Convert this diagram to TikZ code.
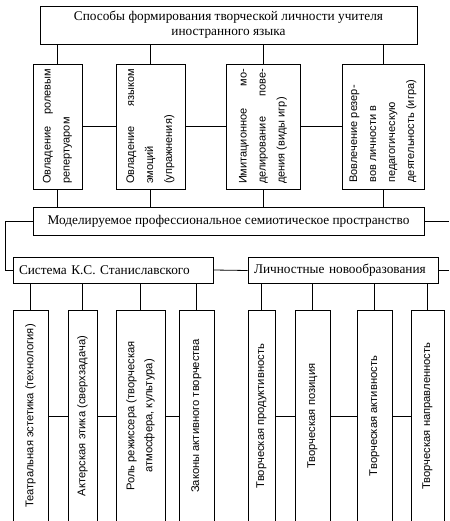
\documentclass[tikz,border=0pt]{standalone}
\usepackage{fontspec}
\setmainfont{Liberation Serif}
\newfontfamily\sansru{Liberation Sans}
\newcommand{\vlabel}[2]{\rotatebox{90}{\parbox{#1}{#2}}}

\begin{document}
\begin{tikzpicture}[x=1pt, y=-1pt, line width=0.8pt,
      box/.style={draw, inner sep=0pt, align=center, font=\fontsize{13.3}{15}\selectfont},
      headbox/.style={box, minimum width=377pt, minimum height=38pt},
      midbox/.style={box, minimum width=391pt, minimum height=28pt},
      subbox/.style={box, minimum height=26pt, align=left, inner xsep=6pt},
      waybox/.style={draw, inner sep=0pt, minimum height=125pt,
                     font=\sansru\fontsize{11}{19}\selectfont},
      partbox/.style={draw, inner sep=0pt, minimum height=212pt, align=center,
                      font=\sansru\fontsize{11.2}{18}\selectfont},
      link/.style={draw}
    ]
    \clip (0,0) rectangle (449,521);
    \coordinate (edge) at (449,0);

    % head and ways of forming
    \node[headbox] (head) at (228.5,25) {Способы формирования творческой личности учителя\\иностранного языка};

    \node[waybox, minimum width=49pt] (way1) at (57.5,126.5)
      {\vlabel{115pt}{Овладение ролевым\linebreak репертуаром}};
    \node[waybox, minimum width=69pt] (way2) at (150.5,126.5)
      {\vlabel{115pt}{Овладение языком\linebreak эмоций\\(упражнения)}};
    \node[waybox, minimum width=74pt] (way3) at (263,126.5)
      {\vlabel{115pt}{Имитационное мо-\linebreak делирование пове-\linebreak дения (виды игр)}};
    \node[waybox, minimum width=82pt] (way4) at (383,126.5)
      {\vlabel{112pt}{\raggedright Вовлечение резер-\\вов личности в\\педагогическую\\деятельность (игра)}};

    \node[midbox] (space) at (228.5,221) {Моделируемое профессиональное семиотическое пространство};

    % two branches
    \node[subbox, text width=188pt] (stan) at (113,270) {Система К.С. Станиславского};
    \node[subbox, text width=178pt] (self) at (343,270.5) {Личностные новообразования};

    \node[partbox, minimum width=35pt] (part1) at (30.5,416) {\rotatebox{90}{Театральная эстетика (технология)}};
    \node[partbox, minimum width=29pt] (part2) at (82.5,416) {\rotatebox{90}{Актерская этика (сверхзадача)}};
    \node[partbox, minimum width=49pt] (part3) at (140.5,416)
      {\rotatebox{90}{\parbox{180pt}{\centering Роль режиссера (творческая\\атмосфера, культура)}}};
    \node[partbox, minimum width=35pt] (part4) at (196.5,416) {\rotatebox{90}{Законы активного творчества}};

    \node[partbox, minimum width=27pt] (new1) at (261.5,416) {\rotatebox{90}{Творческая продуктивность}};
    \node[partbox, minimum width=35pt] (new2) at (312.5,416) {\rotatebox{90}{Творческая позиция}};
    \node[partbox, minimum width=35pt] (new3) at (374.5,416) {\rotatebox{90}{Творческая активность}};
    \node[partbox, minimum width=33pt] (new4) at (427.5,416) {\rotatebox{90}{Творческая направленность}};

    % connectors
    \foreach \w in {way1,way2,way3,way4} {
      \draw[link] (\w.north) -- (\w.north |- head.south);
      \draw[link] (\w.south) -- (\w.south |- space.north);
    }
    \draw[link] (way1.east) -- (way2.west);
    \draw[link] (way2.east) -- (way3.west);
    \draw[link] (way3.east) -- (way4.west);

    \draw[link] (space.west) -- ++(-27,0) |- (stan.west);
    \draw[link] (space.east) -- (space.east -| edge);
    \draw[link] (stan.east) -- (self.west);
    \draw[link] (self.east) -- (self.east -| edge);

    \foreach \p in {part1,part2,part3,part4}
      \draw[link] (\p.north) -- (\p.north |- stan.south);
    \foreach \p in {new1,new2,new3,new4}
      \draw[link] (\p.north) -- (\p.north |- self.south);
    \draw[link] (part1.east) -- (part2.west);
    \draw[link] (part2.east) -- (part3.west);
    \draw[link] (part3.east) -- (part4.west);
    \draw[link] (new1.east) -- (new2.west);
    \draw[link] (new2.east) -- (new3.west);
    \draw[link] (new3.east) -- (new4.west);
  \end{tikzpicture}
\end{document}
